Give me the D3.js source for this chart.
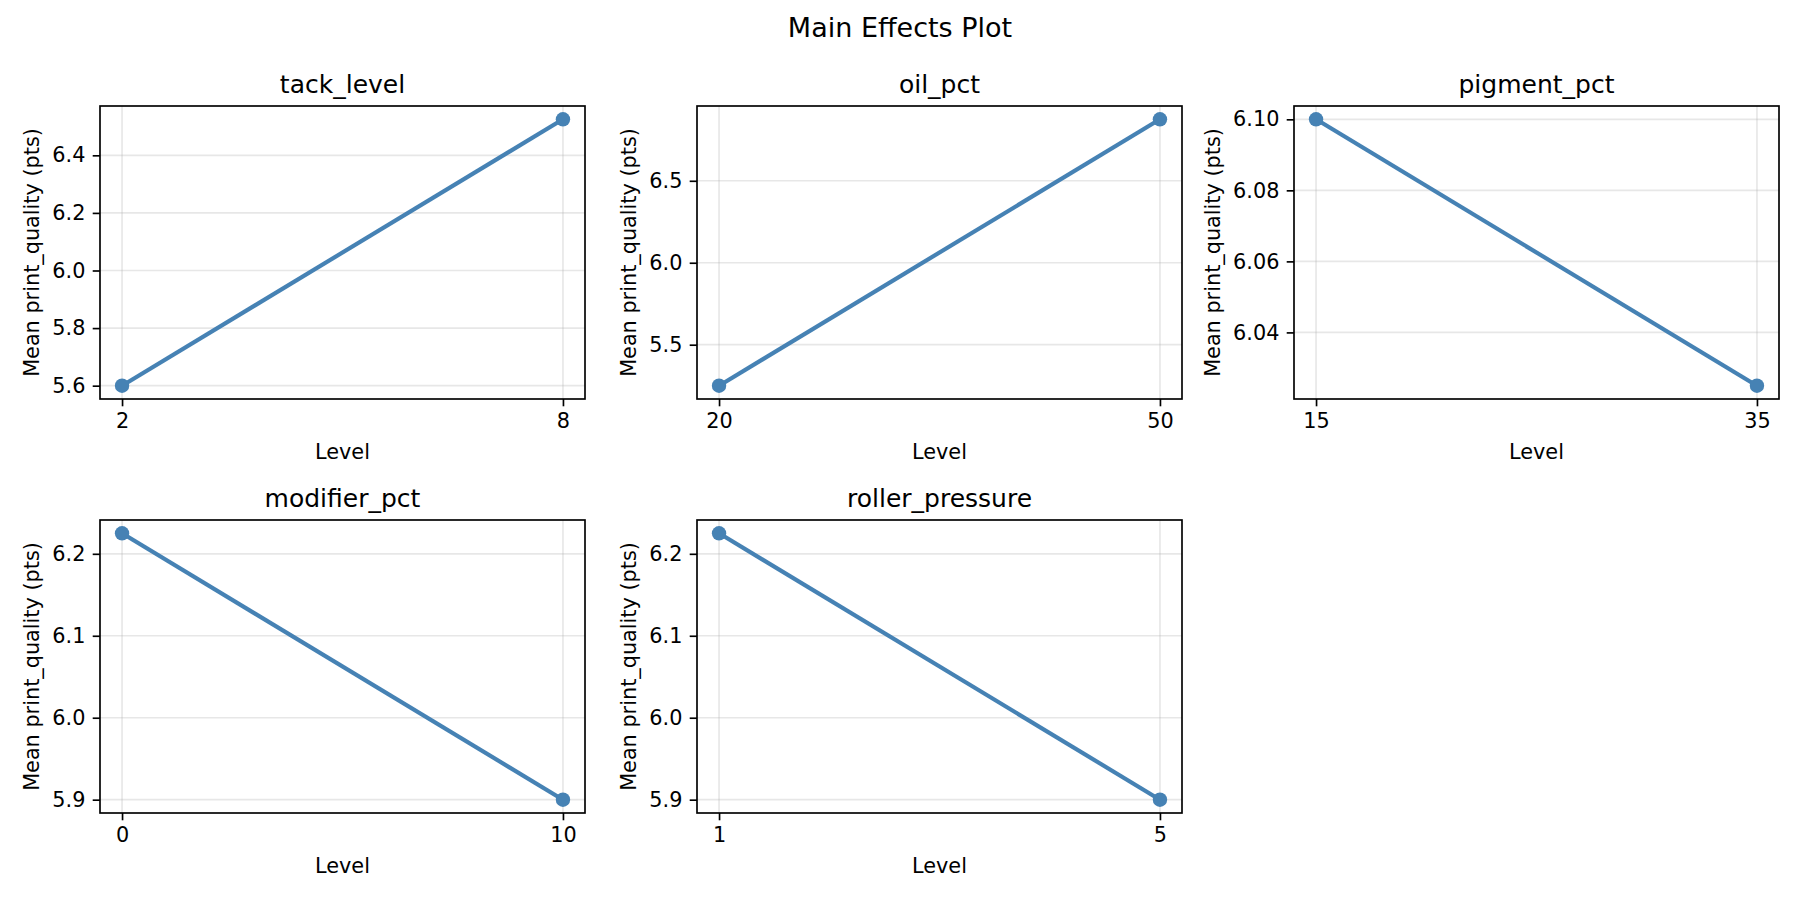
<!DOCTYPE html>
<html lang="en">
<head>
<meta charset="UTF-8">
<title>Main Effects Plot</title>
<script src="https://d3js.org/d3.v7.min.js"></script>
<style>
    body { margin: 0; background: #fff; }
    svg { display: block; font-family: "DejaVu Sans", sans-serif; }
    .tick text { font-family: "DejaVu Sans", sans-serif; font-size: 20.8px; fill: #000; }
    .tick line { stroke: #000; stroke-width: 1.67; }
</style>
</head>
<body>
<script>
    // Factor names, their two levels and the mean response at each level
    const factors = ["tack_level", "oil_pct", "pigment_pct", "modifier_pct", "roller_pressure"];
    const levels = [[2, 8], [20, 50], [15, 35], [0, 10], [1, 5]];
    const means = [[5.6, 6.525], [5.25, 6.875], [6.10, 6.025], [6.225, 5.9], [6.225, 5.9]];

    // Y tick values and decimals used for their labels
    const yTicks = [
        [5.6, 5.8, 6.0, 6.2, 6.4],
        [5.5, 6.0, 6.5],
        [6.04, 6.06, 6.08, 6.10],
        [5.9, 6.0, 6.1, 6.2],
        [5.9, 6.0, 6.1, 6.2]
    ];
    const yDecimals = [1, 1, 2, 1, 1];

    const chartTitle = "Main Effects Plot";
    const xLabel = "Level";
    const yLabel = "Mean print_quality (pts)";

    // Layout of the 2x3 grid (last cell left empty)
    const width = 1800, height = 900;
    const colLeft = [100, 697, 1294];
    const rowTop = [106, 520];
    const panelW = 485, panelH = 293;
    const color = "steelblue";

    const svg = d3.select("body").append("svg")
        .attr("width", width)
        .attr("height", height);

    svg.append("text")
        .attr("x", width / 2)
        .attr("y", 37)
        .attr("text-anchor", "middle")
        .style("font-size", "27px")
        .text(chartTitle);

    factors.forEach((name, i) => {
        const left = colLeft[i % 3];
        const top = rowTop[Math.floor(i / 3)];
        const g = svg.append("g").attr("transform", `translate(${left},${top})`);

        // matplotlib-style 5% margins on both axes
        const xExt = d3.extent(levels[i]);
        const xPad = (xExt[1] - xExt[0]) * 0.05;
        const x = d3.scaleLinear().domain([xExt[0] - xPad, xExt[1] + xPad]).range([0, panelW]);

        const yExt = d3.extent(means[i]);
        const yPad = (yExt[1] - yExt[0]) * 0.05;
        const y = d3.scaleLinear().domain([yExt[0] - yPad, yExt[1] + yPad]).range([panelH, 0]);

        // grid
        g.append("g").selectAll("line").data(yTicks[i]).join("line")
            .attr("x1", 0).attr("x2", panelW)
            .attr("y1", d => y(d)).attr("y2", d => y(d))
            .attr("stroke", "#b0b0b0").attr("stroke-opacity", 0.3).attr("stroke-width", 1.67);
        g.append("g").selectAll("line").data(levels[i]).join("line")
            .attr("y1", 0).attr("y2", panelH)
            .attr("x1", d => x(d)).attr("x2", d => x(d))
            .attr("stroke", "#b0b0b0").attr("stroke-opacity", 0.3).attr("stroke-width", 1.67);

        // line and markers
        const pts = levels[i].map((lv, j) => [lv, means[i][j]]);
        g.append("path")
            .datum(pts)
            .attr("fill", "none")
            .attr("stroke", color)
            .attr("stroke-width", 4.17)
            .attr("stroke-linejoin", "round")
            .attr("d", d3.line().x(d => x(d[0])).y(d => y(d[1])));

        g.selectAll("circle").data(pts).join("circle")
            .attr("cx", d => x(d[0]))
            .attr("cy", d => y(d[1]))
            .attr("r", 7.2)
            .attr("fill", color);

        // axes
        const xAxis = g.append("g")
            .attr("transform", `translate(0,${panelH})`)
            .call(d3.axisBottom(x).tickValues(levels[i]).tickFormat(d3.format("d"))
                .tickSize(7.3).tickPadding(7.3));
        xAxis.select(".domain").remove();

        const yAxis = g.append("g")
            .call(d3.axisLeft(y).tickValues(yTicks[i]).tickFormat(d3.format(`.${yDecimals[i]}f`))
                .tickSize(7.3).tickPadding(7.3));
        yAxis.select(".domain").remove();

        // frame
        g.append("rect")
            .attr("width", panelW).attr("height", panelH)
            .attr("fill", "none").attr("stroke", "#000").attr("stroke-width", 1.67);

        // titles and labels
        g.append("text")
            .attr("x", panelW / 2).attr("y", -13)
            .attr("text-anchor", "middle")
            .style("font-size", "25px")
            .text(name);

        g.append("text")
            .attr("x", panelW / 2).attr("y", panelH + 60)
            .attr("text-anchor", "middle")
            .style("font-size", "20.8px")
            .text(xLabel);

        let maxW = 0;
        yAxis.selectAll(".tick text").each(function () {
            maxW = Math.max(maxW, this.getComputedTextLength());
        });
        const labelX = -14.6 - maxW - 13.2;
        g.append("text")
            .attr("transform", `translate(${labelX},${panelH / 2}) rotate(-90)`)
            .attr("text-anchor", "middle")
            .style("font-size", "20.8px")
            .text(yLabel);
    });
</script>
</body>
</html>
